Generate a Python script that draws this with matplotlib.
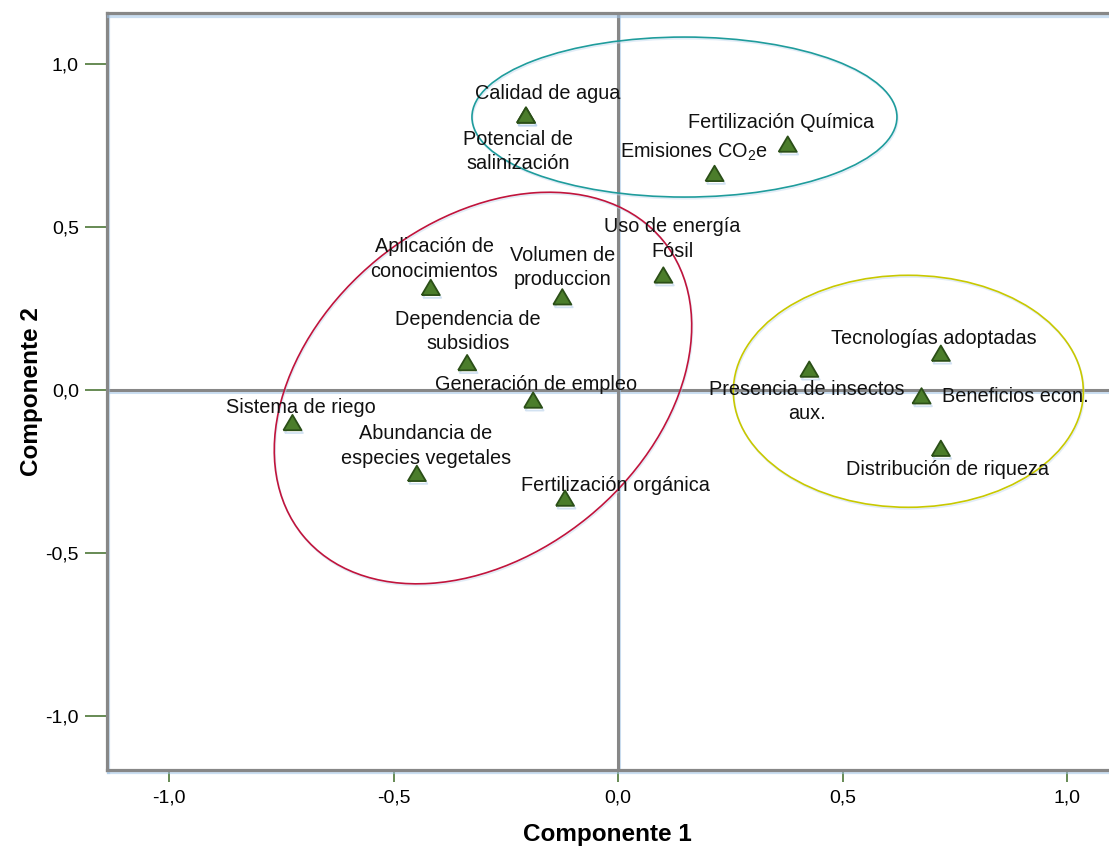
import matplotlib
matplotlib.use("Agg")
import matplotlib.pyplot as plt
import matplotlib.patheffects as pe
from matplotlib.patches import Ellipse
from matplotlib.transforms import Affine2D

plt.rcParams['font.family'] = ['Liberation Sans', 'DejaVu Sans']
plt.rcParams['mathtext.fontset'] = 'custom'
plt.rcParams['mathtext.rm'] = 'Liberation Sans'
plt.rcParams['mathtext.it'] = 'Liberation Sans:italic'
plt.rcParams['mathtext.bf'] = 'Liberation Sans:bold'
plt.rcParams['mathtext.default'] = 'regular'

# ---- data ----
variables = [
    "Calidad de agua",
    "Potencial de\nsalinización",
    "Fertilización Química",
    "Emisiones CO$_2$e",
    "Uso de energía\nFósil",
    "Volumen de\nproduccion",
    "Aplicación de\nconocimientos",
    "Dependencia de\nsubsidios",
    "Generación de empleo",
    "Sistema de riego",
    "Abundancia de\nespecies vegetales",
    "Fertilización orgánica",
    "Tecnologías adoptadas",
    "Presencia de insectos\naux.",
    "Beneficios econ.",
    "Distribución de riqueza",
]
componente1 = [-0.205, -0.205, 0.378, 0.215, 0.101, -0.124, -0.417, -0.336,
               -0.189, -0.725, -0.448, -0.118, 0.719, 0.426, 0.676, 0.719]
componente2 = [0.844, 0.844, 0.755, 0.665, 0.353, 0.286, 0.315, 0.084,
               -0.031, -0.100, -0.256, -0.332, 0.113, 0.064, -0.018, -0.179]

tick_values = [-1.0, -0.5, 0.0, 0.5, 1.0]
tick_labels = ["-1,0", "-0,5", "0,0", "0,5", "1,0"]

# label offsets (pixels, relative to marker)
label_offsets = [(21.5, 21.7), (-8, -36.5), (-6.4, 21.7), (-20.3, 21.6),
                 (8.7, 36), (0.7, 29.2), (3.3, 28.3), (1, 31), (3, 16),
                 (8, 15), (9.1, 27.5), (50, 13), (-6.7, 15), (-2.3, -32.4),
                 (93.6, -0.7), (6.3, -20.7)]

# ---- figure ----
W, H = 1109, 846
fig = plt.figure(figsize=(W / 100, H / 100), dpi=100)
left_px, right_px, top_px, bottom_px = 106.7, 1109, 13.3, 770
ax = fig.add_axes([left_px / W, 1 - bottom_px / H,
                   (right_px - left_px) / W, (bottom_px - top_px) / H])
x0_px, sx = 618.0, 449.0
y0_px, sy = 390.0, 325.7
ax.set_xlim((left_px - x0_px) / sx, (right_px - x0_px) / sx)
ax.set_ylim((y0_px - bottom_px) / sy, (y0_px - top_px) / sy)

shadow = [pe.SimpleLineShadow(offset=(0.8, -1.6), shadow_color='#9fc3e6', alpha=0.55),
          pe.Normal()]

spine_col = '#878787'
for s in ['top', 'left', 'bottom']:
    ax.spines[s].set_color(spine_col)
    ax.spines[s].set_linewidth(2.3)
    ax.spines[s].set_path_effects(shadow)
ax.spines['right'].set_visible(False)

ax.axhline(0, color=spine_col, lw=2.2, zorder=1, path_effects=shadow)
ax.axvline(0, color=spine_col, lw=2.2, zorder=1, path_effects=shadow)

ax.set_xticks(tick_values)
ax.set_xticklabels(tick_labels)
ax.set_yticks(tick_values)
ax.set_yticklabels(tick_labels)
ax.tick_params(axis='x', length=8.6, width=1.1, color='#3d6b26', labelsize=14, pad=5.5)
ax.tick_params(axis='y', length=15.5, width=1.1, color='#3d6b26', labelsize=14, pad=4.5)

ax.set_xlabel("Componente 1", fontsize=17.5, fontweight='bold', labelpad=12)
ax.set_ylabel("Componente 2", fontsize=17.5, fontweight='bold', labelpad=1.5)

# ellipses, defined in pixel units around a data centre
def pix_ellipse(cx, cy, wpx, hpx, ang, color):
    tr = Affine2D().scale(1 / sx, 1 / sy).translate(cx, cy) + ax.transData
    e = Ellipse((0, 0), wpx, hpx, angle=ang, fill=False, edgecolor=color,
                lw=1.2, transform=tr, zorder=3,
                path_effects=[pe.SimpleLineShadow(offset=(0.6, -1.2), shadow_color='#c5daf0', alpha=0.5), pe.Normal()])
    ax.add_patch(e)

pix_ellipse(0.148, 0.838, 425, 160, 0, '#1f9c9c')
pix_ellipse(-0.3007, 0.006, 465.5, 333, 39.3, '#c0143c')
pix_ellipse(0.6466, -0.004, 350, 232, 0, '#c8c800')

tri = [(-1, -0.85), (1, -0.85), (0, 0.85), (-1, -0.85)]
ax.plot(componente1, componente2, linestyle='none', marker=tri, markersize=13,
        markerfacecolor='#4b7d2b', markeredgecolor='#2b4f17', markeredgewidth=1.3,
        zorder=4,
        path_effects=[pe.SimpleLineShadow(offset=(1, -2), shadow_color='#a9c7e6', alpha=0.5), pe.Normal()])

for name, x, y, off in zip(variables, componente1, componente2, label_offsets):
    ax.annotate(name, (x, y), xytext=off, textcoords='offset pixels',
                ha='center', va='center', multialignment='center',
                fontsize=14.3, color='#111111', linespacing=1.38, zorder=5)

fig.savefig("out.png", dpi=100)
